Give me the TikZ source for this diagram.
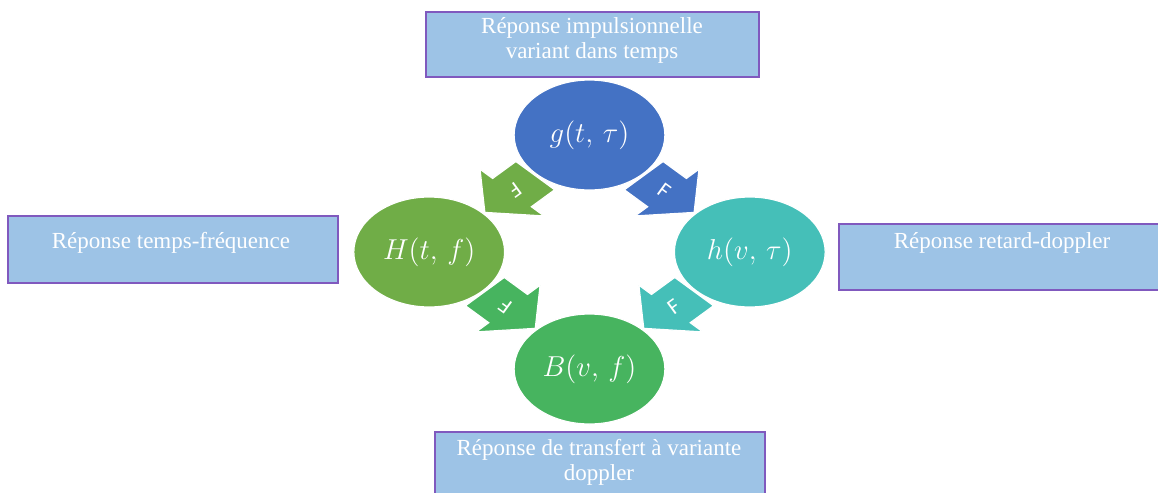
\documentclass[tikz,border=0pt]{standalone}
\usepackage{fontspec}
\setmainfont{Liberation Serif}
\newfontfamily\arrfont{Carlito}
\usetikzlibrary{shapes.geometric}
\definecolor{boxfill}{HTML}{9DC3E6}
\definecolor{boxline}{HTML}{8059BE}
\definecolor{gcol}{HTML}{4472C4}
\definecolor{Hcol}{HTML}{70AD47}
\definecolor{hcol}{HTML}{45BFB8}
\definecolor{Bcol}{HTML}{47B45F}
\tikzset{
  box/.style={draw=boxline, line width=1pt, fill=boxfill, rectangle, inner sep=0pt},
  boxtext/.style={text=white, font=\fontsize{11.5}{12.5}\selectfont, align=center, inner sep=0pt},
  cyc/.style={ellipse, inner sep=0pt, minimum width=75.4pt, minimum height=55pt,
    draw=white, line width=0.6pt, text=white, font=\fontsize{14}{16}\selectfont},
  arrtext/.style={text=white, font=\arrfont\fontsize{11}{13}\selectfont, inner sep=0pt},
  blockarrow/.style={draw=white, line width=0.6pt, line join=miter},
}
\begin{document}
\begin{tikzpicture}[x=0.5pt,y=-0.5pt]
\useasboundingbox (0,0) rectangle (1158,493);
\clip (0,0) rectangle (1158,493);
% label boxes
\node[box, minimum width=166.5pt, minimum height=32.5pt] (tb) at (592.5,44.5) {};
\node[boxtext] (tbt) at (592,40) {Réponse impulsionnelle\\variant dans temps};
\node[box, minimum width=165pt, minimum height=33.5pt] (lb) at (173,249.5) {};
\node[boxtext] (lbt) at (171,243) {Réponse temps-fréquence};
\node[box, minimum width=165pt, minimum height=33pt] (rb) at (1004,257) {};
\node[boxtext] (rbt) at (1002,243) {Réponse retard-doppler};
\node[box, minimum width=165pt, minimum height=33pt] (bb) at (600,465) {};
\node[boxtext] (bbt) at (599,462) {Réponse de transfert à variante\\doppler};
% cycle (stretched horizontally)
\begin{scope}[shift={(589.5,252)}, xscale=1.37, yscale=-1]
  \foreach \ang/\rot/\col/\trot/\nm in {135/225/Hcol/216/a1, 45/-45/gcol/-36/a2, 225/-45/Bcol/144/a3, 315/225/hcol/36/a4}{
    \begin{scope}[shift={(\ang:82)}, rotate={-\rot}]
      \fill[\col, blockarrow] (-26,-20) -- (-2,-20) -- (-2,-33) -- (26,0) -- (-2,33) -- (-2,20) -- (-26,20) -- cycle;
      \node[arrtext, rotate=\trot] (\nm) at (-5,0) {F};
    \end{scope}
  }
  \node[cyc, fill=gcol] (g) at (0,117) {$g(t,\,\tau)$};
  \node[cyc, fill=Hcol] (H) at (-117,0) {$H(t,\,f)$};
  \node[cyc, fill=hcol] (h) at (117,0) {$h(v,\,\tau)$};
  \node[cyc, fill=Bcol] (B) at (0,-117) {$B(v,\,f)$};
\end{scope}
\end{tikzpicture}
\end{document}
